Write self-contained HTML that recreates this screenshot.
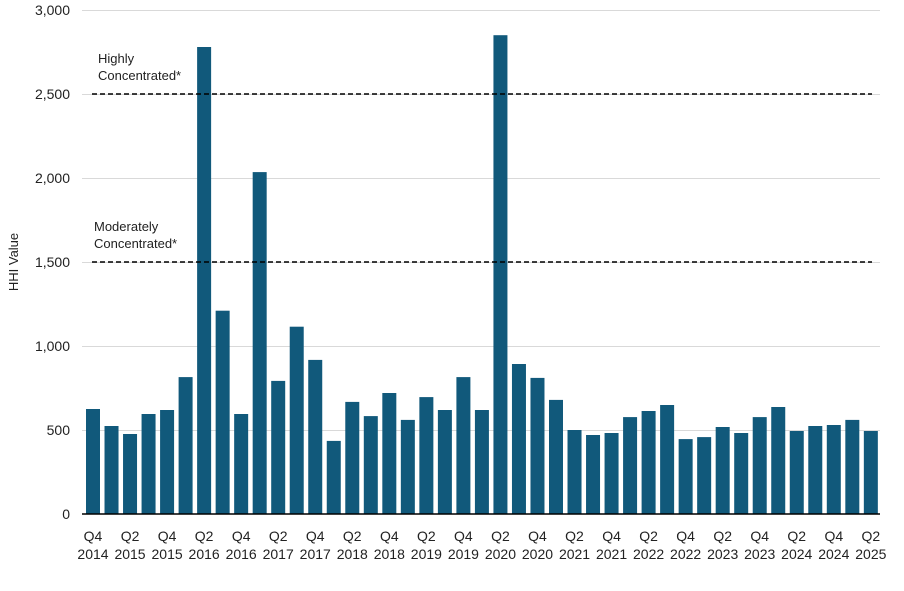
<!DOCTYPE html>
<html><head><meta charset="utf-8"><style>body{margin:0;background:#fff}svg{display:block}text{font-family:"Liberation Sans",sans-serif;fill:#222}</style></head><body>
<svg width="904" height="591" xmlns="http://www.w3.org/2000/svg">
<g stroke="#d9d9d9" stroke-width="1">
<line x1="82" x2="880" y1="10.5" y2="10.5"/><line x1="82" x2="880" y1="94.5" y2="94.5"/><line x1="82" x2="880" y1="178.5" y2="178.5"/><line x1="82" x2="880" y1="262.5" y2="262.5"/><line x1="82" x2="880" y1="346.5" y2="346.5"/><line x1="82" x2="880" y1="430.5" y2="430.5"/>
</g>
<g font-size="14" text-anchor="end">
<text x="70" y="15">3,000</text><text x="70" y="99">2,500</text><text x="70" y="183">2,000</text><text x="70" y="267">1,500</text><text x="70" y="351">1,000</text><text x="70" y="435">500</text><text x="70" y="519">0</text>
</g>
<text transform="translate(18,262) rotate(-90)" font-size="13" text-anchor="middle">HHI Value</text>
<g fill="#11597b">
<rect x="86" y="409" width="14" height="105"/>
<rect x="104.52" y="426" width="14" height="88"/>
<rect x="123.04" y="434" width="14" height="80"/>
<rect x="141.56" y="414" width="14" height="100"/>
<rect x="160.08" y="410" width="14" height="104"/>
<rect x="178.6" y="377.1" width="14" height="136.9"/>
<rect x="197.12" y="47" width="14" height="467"/>
<rect x="215.64" y="310.7" width="14" height="203.3"/>
<rect x="234.16" y="414" width="14" height="100"/>
<rect x="252.68" y="172.1" width="14" height="341.9"/>
<rect x="271.2" y="380.9" width="14" height="133.1"/>
<rect x="289.72" y="326.7" width="14" height="187.3"/>
<rect x="308.24" y="359.9" width="14" height="154.1"/>
<rect x="326.76" y="440.9" width="14" height="73.1"/>
<rect x="345.28" y="401.9" width="14" height="112.1"/>
<rect x="363.8" y="416.1" width="14" height="97.9"/>
<rect x="382.32" y="393" width="14" height="121"/>
<rect x="400.84" y="419.9" width="14" height="94.1"/>
<rect x="419.36" y="397.1" width="14" height="116.9"/>
<rect x="437.88" y="410" width="14" height="104"/>
<rect x="456.4" y="377.1" width="14" height="136.9"/>
<rect x="474.92" y="410" width="14" height="104"/>
<rect x="493.44" y="35.2" width="14" height="478.8"/>
<rect x="511.96" y="364" width="14" height="150"/>
<rect x="530.48" y="377.9" width="14" height="136.1"/>
<rect x="549" y="399.9" width="14" height="114.1"/>
<rect x="567.52" y="430" width="14" height="84"/>
<rect x="586.04" y="435" width="14" height="79"/>
<rect x="604.56" y="433" width="14" height="81"/>
<rect x="623.08" y="417.1" width="14" height="96.9"/>
<rect x="641.6" y="411" width="14" height="103"/>
<rect x="660.12" y="405" width="14" height="109"/>
<rect x="678.64" y="439.1" width="14" height="74.9"/>
<rect x="697.16" y="437.1" width="14" height="76.9"/>
<rect x="715.68" y="427" width="14" height="87"/>
<rect x="734.2" y="433" width="14" height="81"/>
<rect x="752.72" y="417.1" width="14" height="96.9"/>
<rect x="771.24" y="407" width="14" height="107"/>
<rect x="789.76" y="431" width="14" height="83"/>
<rect x="808.28" y="426" width="14" height="88"/>
<rect x="826.8" y="425" width="14" height="89"/>
<rect x="845.32" y="419.9" width="14" height="94.1"/>
<rect x="863.84" y="431" width="14" height="83"/>
</g>
<line x1="82" x2="880" y1="514" y2="514" stroke="#000" stroke-width="1.5"/>
<g stroke="#000" stroke-width="1.5" stroke-dasharray="5,3">
<line x1="92" x2="872" y1="94" y2="94"/><line x1="92" x2="872" y1="262" y2="262"/>
</g>
<g font-size="13">
<text x="98" y="63">Highly</text><text x="98" y="80">Concentrated*</text>
<text x="94" y="231">Moderately</text><text x="94" y="248">Concentrated*</text>
</g>
<g font-size="14" text-anchor="middle">
<text x="93" y="541">Q4</text><text x="93" y="559">2014</text>
<text x="130.04" y="541">Q2</text><text x="130.04" y="559">2015</text>
<text x="167.08" y="541">Q4</text><text x="167.08" y="559">2015</text>
<text x="204.12" y="541">Q2</text><text x="204.12" y="559">2016</text>
<text x="241.16" y="541">Q4</text><text x="241.16" y="559">2016</text>
<text x="278.2" y="541">Q2</text><text x="278.2" y="559">2017</text>
<text x="315.24" y="541">Q4</text><text x="315.24" y="559">2017</text>
<text x="352.28" y="541">Q2</text><text x="352.28" y="559">2018</text>
<text x="389.32" y="541">Q4</text><text x="389.32" y="559">2018</text>
<text x="426.36" y="541">Q2</text><text x="426.36" y="559">2019</text>
<text x="463.4" y="541">Q4</text><text x="463.4" y="559">2019</text>
<text x="500.44" y="541">Q2</text><text x="500.44" y="559">2020</text>
<text x="537.48" y="541">Q4</text><text x="537.48" y="559">2020</text>
<text x="574.52" y="541">Q2</text><text x="574.52" y="559">2021</text>
<text x="611.56" y="541">Q4</text><text x="611.56" y="559">2021</text>
<text x="648.6" y="541">Q2</text><text x="648.6" y="559">2022</text>
<text x="685.64" y="541">Q4</text><text x="685.64" y="559">2022</text>
<text x="722.68" y="541">Q2</text><text x="722.68" y="559">2023</text>
<text x="759.72" y="541">Q4</text><text x="759.72" y="559">2023</text>
<text x="796.76" y="541">Q2</text><text x="796.76" y="559">2024</text>
<text x="833.8" y="541">Q4</text><text x="833.8" y="559">2024</text>
<text x="870.84" y="541">Q2</text><text x="870.84" y="559">2025</text>
</g>
</svg>
</body></html>
